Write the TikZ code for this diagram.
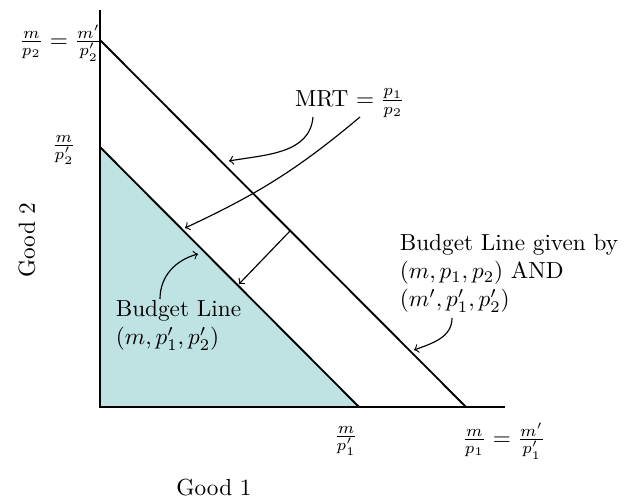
\documentclass[tikz,border=0pt]{standalone}
\usetikzlibrary{arrows}
\definecolor{budgetfill}{RGB}{191,226,226}
\begin{document}
\begin{tikzpicture}[x=0.43pt,y=-0.43pt,
  axis/.style={line width=0.8pt},
  bline/.style={line width=0.8pt},
  note/.style={->,>=to,line width=0.5pt},
  lbl/.style={inner sep=1pt}]
\useasboundingbox (0,0) rectangle (624,502);
\coordinate (O) at (100,407);
\coordinate (ytop) at (100,10);
\coordinate (xend) at (505,407);
\coordinate (A) at (100,40);
\coordinate (B) at (466,407);
\coordinate (C) at (100,147);
\coordinate (D) at (359,407);
\fill[budgetfill] (O) -- (C) -- (D) -- cycle;
\draw[bline] (A) -- (B);
\draw[bline] (C) -- (D);
\draw[axis] (ytop) -- (O) -- (xend);
% labels
\node[lbl] (lA) at (61,43) {$\frac{m}{p_2}=\frac{m'}{p_2'}$};
\node[lbl] (lC) at (64,150) {$\frac{m}{p_2'}$};
\node[lbl] (lD) at (346,441) {$\frac{m}{p_1'}$};
\node[lbl] (lB) at (504,441) {$\frac{m}{p_1}=\frac{m'}{p_1'}$};
\node[lbl,rotate=90] (g2) at (27,240) {Good 2};
\node[lbl] (g1) at (214,488) {Good 1};
\node[lbl] (mrt) at (350,103) {MRT $=\frac{p_1}{p_2}$};
\node[lbl,align=left,anchor=north west] (bl) at (113,298) {Budget Line\\$(m,p_1',p_2')$};
\node[lbl,align=left,anchor=north west] (blg) at (397,232) {Budget Line given by\\$(m,p_1,p_2)$ AND\\$(m',p_1',p_2')$};
% arrows
\coordinate (m1s) at (313,117);
\coordinate (m1e) at (229,161);
\coordinate (m2s) at (360,117);
\coordinate (m2e) at (185,228);
\coordinate (b1s) at (160,299);
\coordinate (b1e) at (198,254);
\coordinate (g1s) at (452,318);
\coordinate (g1e) at (414,350);
\coordinate (s1) at (290,231);
\coordinate (s2) at (239,284);
\draw[note] (m1s) to[out=-95,in=10] (m1e);
\draw[note] (m2s) to[out=-140,in=25] (m2e);
\draw[note] (b1s) to[out=90,in=195] (b1e);
\draw[note] (g1s) to[out=-90,in=20] (g1e);
\draw[note] (s1) -- (s2);
\end{tikzpicture}
\end{document}
